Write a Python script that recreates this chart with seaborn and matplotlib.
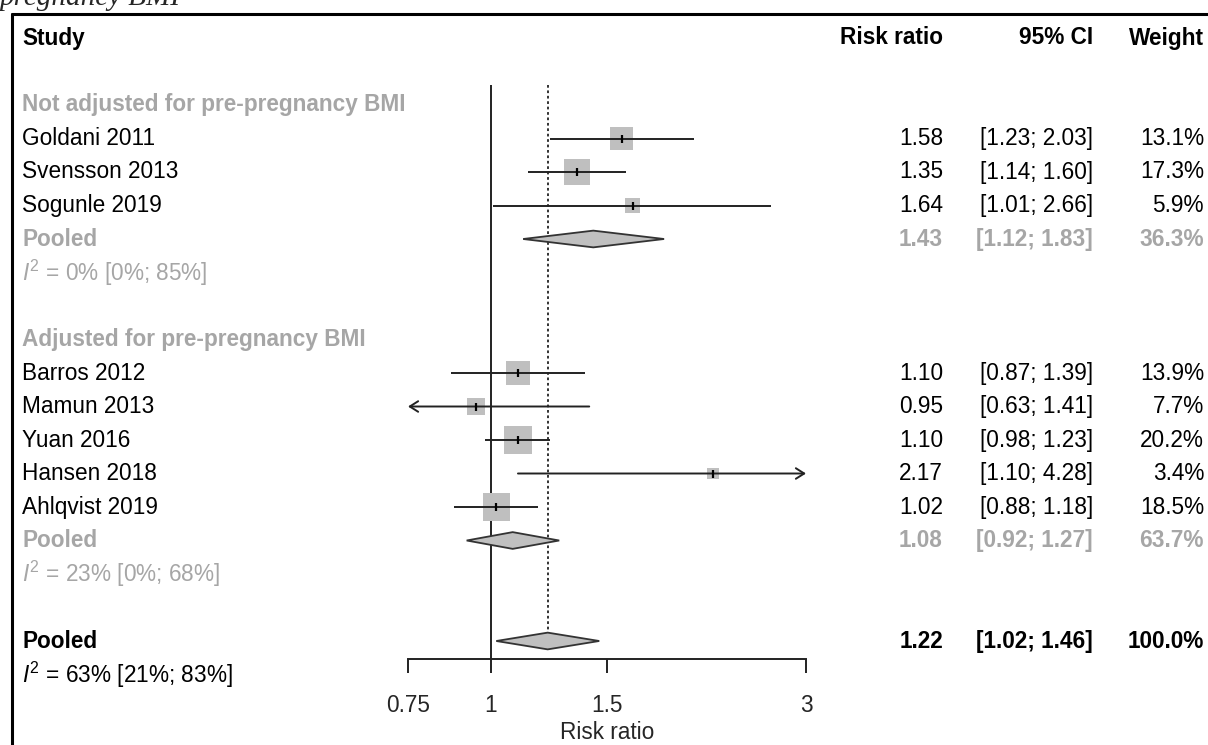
import numpy as np
import pandas as pd
import matplotlib
matplotlib.use("Agg")
import matplotlib.pyplot as plt
import seaborn as sns
from matplotlib.lines import Line2D
from matplotlib.transforms import blended_transform_factory

# ---------------- data ----------------
group_names = ["Not adjusted for pre-pregnancy BMI", "Adjusted for pre-pregnancy BMI"]
studies = ["Goldani 2011", "Svensson 2013", "Sogunle 2019",
           "Barros 2012", "Mamun 2013", "Yuan 2016", "Hansen 2018", "Ahlqvist 2019"]
rr = [1.58, 1.35, 1.64, 1.10, 0.95, 1.10, 2.17, 1.02]
lower = [1.23, 1.14, 1.01, 0.87, 0.63, 0.98, 1.10, 0.88]
upper = [2.03, 1.60, 2.66, 1.39, 1.41, 1.23, 4.28, 1.18]
weight = [13.1, 17.3, 5.9, 13.9, 7.7, 20.2, 3.4, 18.5]

pooled_rr = [1.43, 1.08, 1.22]
pooled_lower = [1.12, 0.92, 1.02]
pooled_upper = [1.83, 1.27, 1.46]
pooled_weight = [36.3, 63.7, 100.0]
i2_text = ["0% [0%; 85%]", "23% [0%; 68%]", "63% [21%; 83%]"]

tick_values = [0.75, 1, 1.5, 3]
tick_labels = ["0.75", "1", "1.5", "3"]

# ---------------- layout (rows) ----------------
study_rows = [3, 4, 5, 10, 11, 12, 13, 14]
group_rows = [2, 9]
pooled_rows = [6, 15, 18]
i2_rows = [7, 16, 19]

W, H = 1208, 745
ROW0, ROWH = 38.0, 33.5

sns.set_style("white")
plt.rcParams["font.family"] = ["Liberation Sans", "DejaVu Sans"]
plt.rcParams["mathtext.fontset"] = "custom"
plt.rcParams["mathtext.it"] = "Liberation Sans:italic"
plt.rcParams["mathtext.rm"] = "Liberation Sans"

FS = 16.3
GREY = "#a6a6a6"

fig = plt.figure(figsize=(W / 100, H / 100), dpi=100)
axis_y = 659
ax = fig.add_axes([408 / W, (H - axis_y) / H, (806 - 408) / W, axis_y / H])
ax.set_xscale("log")
ax.set_xlim(0.75, 3)
ax.set_ylim((axis_y - ROW0) / ROWH, -ROW0 / ROWH)
for s in ["top", "left", "right"]:
    ax.spines[s].set_visible(False)
ax.spines["bottom"].set_linewidth(1.4)
ax.spines["bottom"].set_color("#222222")
ax.set_yticks([])
ax.set_xticks(tick_values)
ax.set_xticklabels(tick_labels)
ax.xaxis.set_minor_locator(matplotlib.ticker.NullLocator())
ax.tick_params(axis="x", direction="out", length=10, width=1.4, color="#222222",
               pad=15, labelsize=FS, bottom=True)
ax.set_xlabel("Risk ratio", fontsize=FS, labelpad=3)
ax.patch.set_alpha(0)

df = pd.DataFrame({"study": studies, "rr": rr, "lower": lower, "upper": upper,
                   "weight": weight, "row": study_rows})

# reference lines
ybot = ax.get_ylim()[0]
top_line = (85 - ROW0) / ROWH
ax.vlines(1, top_line, ybot, color="#222222", lw=1.4, zorder=1, clip_on=False)
ax.vlines(pooled_rr[2], top_line, pooled_rows[2], color="#222222", lw=1.3,
          linestyles=(0, (1.5, 1.5)), zorder=1, clip_on=False)

# squares (area proportional to weight)
sns.scatterplot(data=df, x="rr", y="row", size="weight", sizes=(0, 2090),
                size_norm=(0, 100), marker="s", color="#bfbfbf", linewidth=0,
                legend=False, ax=ax, zorder=2, clip_on=False)

# CI lines with arrows when outside the axis range
xmin, xmax = ax.get_xlim()
for _, r in df.iterrows():
    lo, hi = max(r["lower"], xmin), min(r["upper"], xmax)
    left_out, right_out = r["lower"] < xmin, r["upper"] > xmax
    if left_out or right_out:
        style = "<->" if (left_out and right_out) else ("<-" if left_out else "->")
        ax.annotate("", xy=(hi, r["row"]), xytext=(lo, r["row"]),
                    arrowprops=dict(arrowstyle=style + ",head_length=0.6,head_width=0.38",
                                    mutation_scale=10, lw=1.4, color="#222222",
                                    shrinkA=0, shrinkB=0),
                    annotation_clip=False, zorder=3)
    else:
        ax.hlines(r["row"], lo, hi, color="#222222", lw=1.4, zorder=3, clip_on=False)

# point estimate tick
sns.scatterplot(data=df, x="rr", y="row", marker="|", s=40, color="black",
                linewidth=1.6, legend=False, ax=ax, zorder=4, clip_on=False)

# diamonds
for row, m, lo, hi in zip(pooled_rows, pooled_rr, pooled_lower, pooled_upper):
    ax.fill([lo, m, hi, m], [row, row - 0.25, row, row + 0.25], facecolor="#c0c0c0",
            edgecolor="#333333", lw=1.3, zorder=5, clip_on=False)

# ---------------- text columns ----------------
tr = blended_transform_factory(fig.transFigure, ax.transData)
X_NAME, X_RR, X_CI, X_W = 22 / W, 943 / W, 1093 / W, 1204 / W

def row_text(row, name, rrv, ci, wt, color="black", weight_="normal"):
    kw = dict(transform=tr, va="center", fontsize=FS, color=color, fontweight=weight_)
    fig.text(X_NAME, row, name, ha="left", **kw)
    if rrv is not None:
        fig.text(X_RR, row, rrv, ha="right", **kw)
        fig.text(X_CI, row, ci, ha="right", **kw)
        fig.text(X_W, row, wt, ha="right", **kw)

row_text(0, "Study", "Risk ratio", "95% CI", "Weight", weight_="bold")
for row, g in zip(group_rows, group_names):
    row_text(row, g, None, None, None, color=GREY, weight_="bold")
for _, r in df.iterrows():
    row_text(r["row"], r["study"], f"{r['rr']:.2f}",
             f"[{r['lower']:.2f}; {r['upper']:.2f}]", f"{r['weight']:.1f}%")
for k, (row, m, lo, hi, wt) in enumerate(zip(pooled_rows, pooled_rr, pooled_lower,
                                             pooled_upper, pooled_weight)):
    col = GREY if k < 2 else "black"
    row_text(row, "Pooled", f"{m:.2f}", f"[{lo:.2f}; {hi:.2f}]", f"{wt:.1f}%",
             color=col, weight_="bold")
for k, (row, t) in enumerate(zip(i2_rows, i2_text)):
    col = GREY if k < 2 else "black"
    fig.text(X_NAME, row, r"$I^2$ = " + t, transform=tr, va="center", ha="left",
             fontsize=FS, color=col)

# frame and clipped caption
fig.add_artist(Line2D([12 / W, 12 / W], [0, 1 - 14 / H], color="black", lw=2.2,
                      transform=fig.transFigure))
fig.add_artist(Line2D([12 / W, 1], [1 - 14 / H, 1 - 14 / H], color="black", lw=2.2,
                      transform=fig.transFigure))
fig.text(0, 1 - 5 / H, "pregnancy BMI", family="Liberation Serif", style="italic",
         fontsize=21, va="baseline", ha="left")

fig.savefig("out.png", dpi=100)
